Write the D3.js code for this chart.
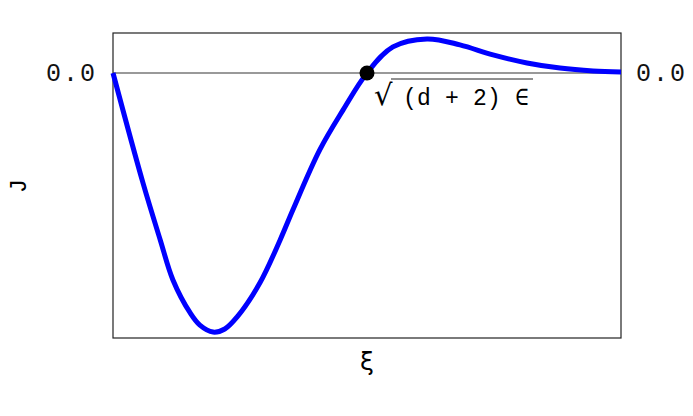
<!DOCTYPE html>
<html>
<head>
  <meta charset="UTF-8">
  <title>J(xi)</title>
  <script src="https://d3js.org/d3.v7.min.js"></script>
  <style>
    body { margin: 0; background: #fff; }
    .tick text { font-family: "Liberation Mono", monospace; font-size: 25px; fill: #111; }
  </style>
</head>
<body>
  <svg width="693" height="416"></svg>
  <script>
    // curve (xi scaled 0..1, J scaled so the minimum is -1)
    const xi = [0, 0.059, 0.093, 0.118, 0.152, 0.171, 0.197, 0.220, 0.244, 0.289, 0.329, 0.354, 0.407, 0.453, 0.5, 0.551, 0.618, 0.683, 0.748, 0.815, 0.880, 0.945, 1.0];
    const J  = [0, -0.426, -0.647, -0.802, -0.930, -0.977, -1.004, -0.992, -0.946, -0.814, -0.647, -0.531, -0.298, -0.143, 0, 0.101, 0.132, 0.109, 0.070, 0.039, 0.019, 0.008, 0.004];
    const yTicks = [0];
    const xiStar = 0.5; // sqrt((d+2) eps)

    const svg = d3.select("svg");
    const x = d3.scaleLinear().domain([0, 1]).range([113, 621]);
    const y = d3.scaleLinear().domain([-1.027, 0.155]).range([338, 33]);

    // zero line
    svg.append("line")
      .attr("x1", x(0)).attr("x2", x(1))
      .attr("y1", y(0)).attr("y2", y(0))
      .attr("stroke", "#999").attr("stroke-width", 2);

    // frame
    svg.append("rect")
      .attr("x", x(0)).attr("y", y(0.155))
      .attr("width", x(1) - x(0)).attr("height", y(-1.027) - y(0.155))
      .attr("fill", "none").attr("stroke", "#222").attr("stroke-width", 1.2);

    const pts = xi.map((v, i) => [v, J[i]]);
    svg.append("path")
      .datum(pts)
      .attr("fill", "none")
      .attr("stroke", "#0000ff")
      .attr("stroke-width", 5)
      .attr("stroke-linejoin", "round")
      .attr("d", d3.line().x(d => x(d[0])).y(d => y(d[1])).curve(d3.curveCatmullRom.alpha(0.5)));

    svg.append("circle")
      .attr("cx", x(xiStar)).attr("cy", y(0)).attr("r", 7.5)
      .attr("fill", "#000");

    // "0.0" ticks on both sides
    const fmt = d3.format(".1f");
    svg.append("g")
      .attr("transform", `translate(${x(0) - 13},0)`)
      .call(d3.axisLeft(y).tickValues(yTicks).tickSize(0).tickFormat(fmt))
      .call(g => g.select(".domain").remove())
      .selectAll("text").attr("dy", "0.32em").attr("letter-spacing", 2);
    svg.append("g")
      .attr("transform", `translate(${x(1) + 12},0)`)
      .call(d3.axisRight(y).tickValues(yTicks).tickSize(0).tickFormat(fmt))
      .call(g => g.select(".domain").remove())
      .selectAll("text").attr("dy", "0.32em").attr("letter-spacing", 2);

    // axis labels
    svg.append("text")
      .attr("transform", "translate(26,186) rotate(-90)")
      .attr("text-anchor", "middle")
      .style("font-family", "Liberation Mono, monospace")
      .style("font-size", "24px")
      .text("J");

    svg.append("text")
      .attr("x", x(0.5)).attr("y", 370)
      .attr("text-anchor", "middle")
      .style("font-family", "DejaVu Sans, sans-serif")
      .style("font-size", "25px")
      .text("ξ");

    // sqrt label
    const lx = x(xiStar) + 7;
    svg.append("text")
      .attr("x", lx).attr("y", 105)
      .style("font-family", "DejaVu Sans, sans-serif")
      .style("font-size", "29px")
      .text("√");
    svg.append("line")
      .attr("x1", lx + 17).attr("x2", 533)
      .attr("y1", 79).attr("y2", 79)
      .attr("stroke", "#222").attr("stroke-width", 1);
    svg.append("text")
      .attr("x", 403).attr("y", 105)
      .attr("textLength", 126)
      .style("font-family", "Liberation Mono, monospace")
      .style("font-size", "23px")
      .style("white-space", "pre")
      .text("(d + 2) ∈");
  </script>
</body>
</html>
